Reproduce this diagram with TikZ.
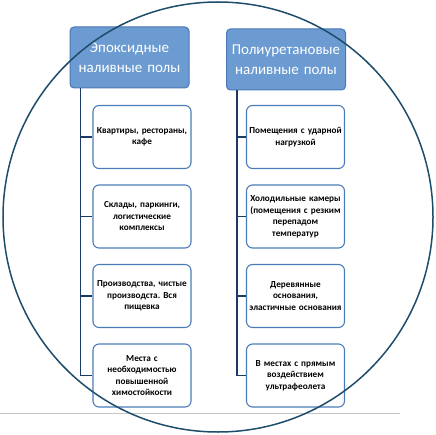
\documentclass[tikz,border=0pt]{standalone}
\usepackage{fontspec}
\setmainfont{Carlito}
\usepackage{tikz}
\usetikzlibrary{trees}
\definecolor{headfill}{HTML}{6B9BD1}
\definecolor{headline}{HTML}{4A78B5}
\definecolor{leafline}{HTML}{4A7DB8}
\definecolor{stem}{HTML}{1C3A66}
\definecolor{ring}{HTML}{1E4D6B}
\frenchspacing

\begin{document}
\begin{tikzpicture}[x=1pt,y=1pt,%
    header/.style={draw=headline, fill=headfill, rounded corners=4pt,
      line width=1pt, minimum width=119pt, minimum height=61pt,
      text width=117pt, inner sep=1pt, align=center, text=white,
      font=\fontsize{15}{19.5}\selectfont},
    every child node/.style={draw=leafline, fill=white, rounded corners=6pt,
      line width=1.1pt, minimum width=98pt, minimum height=63pt,
      text width=96pt, inner sep=1pt, align=center,
      font=\bfseries\fontsize{9.2}{11.5}\selectfont},
    edge from parent/.style={draw=stem, line width=1.1pt},
    edge from parent path={([xshift=11pt]\tikzparentnode.south west) |- (\tikzchildnode.west)}]
  \useasboundingbox (0,0) rectangle (435,-435);
  \node[header] (epoxy) at (129.5,-57.5) {Эпоксидные\\наливные полы}
    [grow via three points={one child at (12.5,-79.5) and
    two children at (12.5,-79.5) and (12.5,-159)}]
      child { node {Квартиры, рестораны,\\кафе}}
      child { node {Склады, паркинги,\\логистические\\комплексы}}
      child { node {Производства, чистые\\производста. Вся\\пищевка}}
      child { node {Места с\\необходимостью\\повышенной\\химостойкости}};
  \node[header] (poly) at (286,-59.5) {Полиуретановые\\наливные полы}
    [grow via three points={one child at (9.5,-77.5) and
    two children at (9.5,-77.5) and (9.5,-157)}]
      child { node {Помещения с ударной\\нагрузкой}}
      child { node {Холодильные камеры\\(помещения с резким\\перепадом\\температур}}
      child { node {Деревянные\\основания,\\эластичные основания}}
      child { node {В местах с прямым\\воздействием\\ультрафеолета}};
  % footer rule and outer ring
  \draw[gray!45, line width=1pt] (0,-413) -- (400,-413);
  \draw[ring, line width=1.5pt] (218,-217) circle[radius=215pt];
\end{tikzpicture}
\end{document}
